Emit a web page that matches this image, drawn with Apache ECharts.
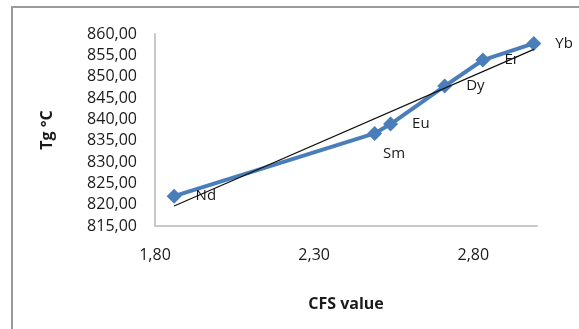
<!DOCTYPE html>
<html>
<head>
<meta charset="utf-8">
<script src="https://cdn.jsdelivr.net/npm/echarts@6/dist/echarts.min.js"></script>
<style>
html,body{margin:0;padding:0;background:#fff;}
#c{width:579px;height:329px;}
</style>
</head>
<body>
<div id="c"></div>
<script>
var elements = ['Nd', 'Sm', 'Eu', 'Dy', 'Er', 'Yb'];
var cfsValues = [1.86, 2.49, 2.54, 2.71, 2.83, 2.99];
var tgValues = [822.0, 836.7, 838.9, 847.8, 853.9, 857.8];
var trendX = [1.86, 2.99];
var trendY = [819.7, 856.4];
var xTickLabels = [1.80, 2.30, 2.80];

var fmt = function (v) { return v.toFixed(2).replace('.', ','); };
var font = 'Open Sans';

var points = cfsValues.map(function (x, i) { return [x, tgValues[i], elements[i]]; });
var trend = trendX.map(function (x, i) { return [x, trendY[i]]; });

var chart = echarts.init(document.getElementById('c'));
chart.setOption({
  animation: false,
  backgroundColor: '#fff',
  graphic: [{
    type: 'rect',
    shape: { x: 12, y: 7, width: 640, height: 400 },
    style: { fill: 'none', stroke: '#9a9a9a', lineWidth: 2 },
    silent: true
  }],
  grid: { left: 155, right: 42, top: 34, bottom: 103 },
  xAxis: {
    type: 'value',
    min: 1.8, max: 3.0, interval: 0.1,
    name: 'CFS value',
    nameLocation: 'middle',
    nameGap: 70,
    nameTextStyle: { fontFamily: font, fontSize: 16, fontWeight: 'bold', color: '#1a1a1a' },
    axisLine: { show: true, lineStyle: { color: '#c8c8c8', width: 2 } },
    axisTick: { show: false },
    splitLine: { show: false },
    axisLabel: {
      margin: 21,
      fontFamily: font, fontSize: 16, color: '#1a1a1a',
      showMaxLabel: false,
      formatter: function (v) {
        for (var i = 0; i < xTickLabels.length; i++) {
          if (Math.abs(v - xTickLabels[i]) < 1e-6) return fmt(v);
        }
        return '';
      }
    }
  },
  yAxis: {
    type: 'value',
    min: 815, max: 860, interval: 5,
    name: 'Tg °C',
    nameLocation: 'middle',
    nameGap: 100,
    nameRotate: 90,
    nameTextStyle: { fontFamily: font, fontSize: 16, fontWeight: 'bold', color: '#1a1a1a' },
    axisLine: { show: true, lineStyle: { color: '#c8c8c8', width: 2 } },
    axisTick: { show: false },
    splitLine: { show: false },
    axisLabel: {
      margin: 18,
      fontFamily: font, fontSize: 16, color: '#1a1a1a',
      formatter: fmt
    }
  },
  series: [{
    type: 'line',
    data: points,
    symbol: 'diamond',
    symbolSize: 15,
    lineStyle: { color: '#4a7ebb', width: 4 },
    itemStyle: { color: '#4a7ebb' },
    z: 2,
    label: {
      show: true,
      position: 'right',
      distance: 14,
      fontFamily: font, fontSize: 15, color: '#1a1a1a',
      formatter: function (p) { return p.data[2]; }
    },
    labelLayout: function (p) {
      if (p.dataIndex === 1) {
        return { x: p.rect.x + 27, y: p.rect.y + 28, align: 'center', verticalAlign: 'middle' };
      }
      return {};
    }
  }, {
    type: 'line',
    data: trend,
    symbol: 'none',
    lineStyle: { color: '#111', width: 1.2 },
    z: 3,
    silent: true
  }]
});
</script>
</body>
</html>
